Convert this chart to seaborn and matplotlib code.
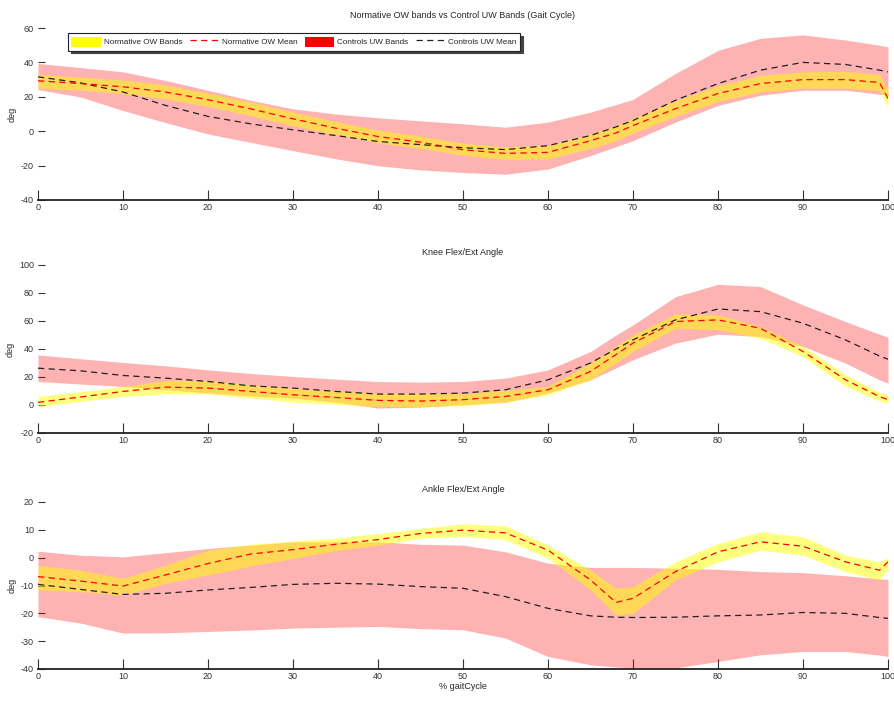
import numpy as np
import pandas as pd
import matplotlib
matplotlib.use("Agg")
import matplotlib.pyplot as plt
from matplotlib.patches import Patch
from matplotlib.lines import Line2D
import seaborn as sns

# ------------------------------------------------------------------
# data (gait cycle %)
# ------------------------------------------------------------------
CICLO = [0, 5, 10, 15, 20, 25, 30, 35, 40, 45, 50, 55, 60, 65, 68, 70,
         75, 80, 85, 90, 95, 99, 100]

# painel 1 - gait cycle
p1_norm_mean = [29.3, 27.7, 25.8, 22.8, 18.3, 13.0, 7.2, 1.8, -3.1, -6.4, -10.8, -12.9,
                -12.3, -5.5, -1.0, 3.3, 13.1, 21.9, 27.7, 30.0, 30.0, 28.3, 19.0]
p1_norm_hi = [33.0, 31.5, 29.8, 26.8, 22.2, 17.0, 11.2, 5.6, 0.6, -2.8, -7.0, -9.0,
              -8.4, -1.5, 3.0, 7.6, 17.6, 26.5, 32.5, 34.5, 34.8, 33.0, 24.0]
p1_norm_lo = [25.0, 23.9, 21.8, 18.8, 14.4, 9.0, 3.2, -2.0, -6.8, -10.0, -14.0, -16.5,
              -16.2, -10.0, -5.5, -1.2, 8.6, 17.3, 22.9, 25.0, 25.0, 23.5, 14.0]
p1_ctrl_mean = [31.6, 28.1, 22.8, 15.0, 8.6, 4.3, 0.8, -2.5, -6.0, -7.8, -9.6, -10.7,
                -8.4, -2.5, 2.5, 6.2, 18.0, 27.7, 35.5, 40.0, 38.8, 35.5, 34.5]
p1_ctrl_hi = [39.4, 37.0, 34.5, 29.5, 23.8, 18.0, 13.0, 10.0, 7.8, 6.0, 4.3, 2.3,
              5.3, 11.1, 15.5, 18.5, 33.6, 47.0, 54.0, 56.0, 53.0, 50.0, 49.0]
p1_ctrl_lo = [24.2, 19.9, 12.0, 5.0, -1.6, -6.5, -11.3, -16.0, -20.1, -22.5, -24.0, -25.0,
              -22.0, -14.2, -9.0, -5.5, 5.3, 15.0, 20.9, 23.8, 23.8, 21.5, 20.9]

# painel 2 - knee
p2_norm_mean = [1.9, 5.7, 9.7, 12.8, 12.1, 9.7, 7.3, 5.4, 3.3, 2.8, 3.8, 6.1,
                10.9, 24.0, 36.0, 44.2, 59.6, 60.8, 54.8, 38.2, 18.0, 6.0, 3.8]
p2_norm_hi = [6.1, 9.5, 13.3, 17.5, 17.5, 14.5, 12.0, 10.0, 8.5, 8.5, 8.0, 10.5,
              13.3, 30.0, 42.0, 50.0, 65.0, 64.4, 56.0, 41.8, 21.6, 9.0, 7.3]
p2_norm_lo = [-1.0, 2.5, 6.1, 8.0, 8.0, 5.0, 2.1, 0.5, -1.0, -1.0, -0.5, 2.0,
              7.3, 18.0, 30.0, 38.2, 54.8, 53.7, 47.7, 34.6, 13.3, 3.0, 1.4]
p2_ctrl_mean = [26.3, 24.4, 21.1, 19.2, 16.8, 13.7, 12.1, 9.7, 7.8, 7.8, 8.5, 10.9,
                18.0, 30.0, 40.0, 46.5, 60.8, 68.6, 66.7, 58.4, 46.5, 35.0, 32.7]
p2_ctrl_hi = [35.8, 33.0, 30.4, 28.0, 25.1, 22.5, 20.4, 18.5, 16.8, 16.3, 16.8, 19.2,
              25.1, 38.2, 50.0, 57.2, 77.4, 86.2, 84.6, 71.5, 59.6, 50.5, 48.5]
p2_ctrl_lo = [16.8, 15.0, 13.3, 11.0, 8.5, 6.5, 4.9, 2.0, -2.2, -1.5, 0.2, 1.9,
              8.5, 18.0, 26.5, 32.3, 44.2, 50.6, 48.9, 41.8, 29.9, 18.0, 15.6]

# painel 3 - ankle
p3_norm_mean = [-6.8, -8.4, -10.2, -6.2, -2.1, 1.3, 2.9, 4.8, 6.5, 8.7, 9.9, 8.9,
                2.7, -8.0, -16.1, -14.6, -5.0, 2.1, 5.7, 4.1, -1.5, -4.5, -1.5]
p3_norm_hi = [-2.7, -4.5, -7.4, -2.7, 2.7, 4.8, 6.0, 7.0, 8.7, 10.5, 12.2, 11.5,
              4.5, -4.5, -11.0, -10.4, -1.5, 5.1, 9.3, 7.5, 0.9, -1.5, 0.0]
p3_norm_lo = [-11.6, -12.2, -13.4, -9.2, -6.2, -3.0, -0.3, 2.5, 4.5, 7.0, 7.7, 6.5,
              -0.2, -11.6, -20.6, -20.0, -8.0, -1.5, 2.7, 0.9, -5.0, -8.0, -3.9]
p3_ctrl_mean = [-9.6, -11.4, -13.2, -12.8, -11.6, -10.7, -9.6, -9.2, -9.5, -10.4, -11.0, -14.0,
                -18.2, -20.9, -21.4, -21.5, -21.4, -20.9, -20.6, -19.7, -20.0, -21.5, -21.8]
p3_ctrl_hi = [2.3, 0.9, 0.3, 1.8, 3.3, 4.5, 5.7, 5.7, 5.7, 4.8, 4.5, 2.1,
              -2.0, -3.5, -3.5, -3.5, -3.8, -4.2, -5.0, -5.4, -6.5, -7.6, -7.8]
p3_ctrl_lo = [-21.2, -23.5, -27.1, -27.0, -26.5, -26.0, -25.3, -25.0, -24.7, -25.5, -25.9, -28.9,
              -35.5, -38.5, -39.3, -39.6, -39.6, -37.3, -34.9, -33.7, -33.7, -35.0, -35.5]

TITULOS = ["Normative OW bands vs Control UW Bands (Gait Cycle)",
           "Knee Flex/Ext Angle",
           "Ankle Flex/Ext Angle"]
YLIMS = [(-40, 60), (-20, 100), (-40, 20)]
YTICKS = [[-40, -20, 0, 20, 40, 60],
          [-20, 0, 20, 40, 60, 80, 100],
          [-40, -30, -20, -10, 0, 10, 20]]
XTICKS = [0, 10, 20, 30, 40, 50, 60, 70, 80, 90, 100]
LEGENDA = ["Normative OW Bands", "Normative OW Mean", "Controls UW Bands", "Controls UW Mean"]

# ------------------------------------------------------------------
# estilo
# ------------------------------------------------------------------
sns.set_theme(style="white")
plt.rcParams["font.family"] = ["Liberation Sans Narrow", "Liberation Sans", "DejaVu Sans"]
plt.rcParams.update({
    "font.size": 6.5,
    "axes.titlesize": 6.5,
    "axes.labelsize": 6.5,
    "xtick.labelsize": 6.5,
    "ytick.labelsize": 6.5,
    "axes.unicode_minus": False,
})

fig = plt.figure(figsize=(8.95, 7.02), dpi=100)
posicoes = [
    [38 / 895, 1 - 200 / 702, 850 / 895, 172 / 702],
    [38 / 895, 1 - 433 / 702, 850 / 895, 168 / 702],
    [38 / 895, 1 - 669 / 702, 850 / 895, 167 / 702],
]

paineis = [
    (p1_norm_mean, p1_norm_lo, p1_norm_hi, p1_ctrl_mean, p1_ctrl_lo, p1_ctrl_hi),
    (p2_norm_mean, p2_norm_lo, p2_norm_hi, p2_ctrl_mean, p2_ctrl_lo, p2_ctrl_hi),
    (p3_norm_mean, p3_norm_lo, p3_norm_hi, p3_ctrl_mean, p3_ctrl_lo, p3_ctrl_hi),
]

x = np.array(CICLO)
for i, (nm, nlo, nhi, cm, clo, chi) in enumerate(paineis):
    ax = fig.add_axes(posicoes[i])
    df = pd.DataFrame({"ciclo": CICLO, "norm": nm, "ctrl": cm})

    # bandas: controle (vermelho) por baixo, normativo (amarelo) por cima
    ax.fill_between(x, clo, chi, color="#FF0000", alpha=0.3, linewidth=0, zorder=1)
    ax.fill_between(x, nlo, nhi, color="#FFFF00", alpha=0.5, linewidth=0, zorder=2)

    sns.lineplot(data=df, x="ciclo", y="ctrl", ax=ax, color="#222222",
                 linewidth=0.9, zorder=3)
    sns.lineplot(data=df, x="ciclo", y="norm", ax=ax, color="#FF0000",
                 linewidth=0.9, zorder=4)
    for ln in ax.lines:
        ln.set_dashes((5, 3.5))

    ax.set_xlim(0, 100)
    ax.set_ylim(*YLIMS[i])
    ax.set_xticks(XTICKS)
    ax.set_yticks(YTICKS[i])
    ax.set_title(TITULOS[i], pad=7)
    ax.set_ylabel("deg", labelpad=3)
    ax.set_xlabel("% gaitCycle" if i == 2 else "", labelpad=1)

    for s in ["top", "right", "left"]:
        ax.spines[s].set_visible(False)
    ax.spines["bottom"].set_color("#222222")
    ax.spines["bottom"].set_linewidth(1.3)
    ax.tick_params(axis="x", bottom=True, direction="in", length=7, width=0.8,
                   colors="#333333", pad=2)
    ax.tick_params(axis="y", left=True, direction="in", length=5, width=0.8,
                   colors="#333333", pad=3)

    if i == 0:
        handles = [
            Patch(facecolor="#FFFF00", edgecolor="none"),
            Line2D([0], [0], color="#FF0000", lw=0.9, dashes=(5, 3.5)),
            Patch(facecolor="#FF0000", edgecolor="none"),
            Line2D([0], [0], color="#222222", lw=0.9, dashes=(5, 3.5)),
        ]
        leg = ax.legend(handles, LEGENDA, ncol=4, loc="upper left",
                        bbox_to_anchor=(0.035, 0.972), borderaxespad=0,
                        frameon=True, fancybox=False,
                        shadow={"color": "#444444", "alpha": 1},
                        edgecolor="#222222", framealpha=1, handlelength=3.6,
                        handleheight=1.6, columnspacing=0.9, handletextpad=0.35,
                        borderpad=0.45, fontsize=5.9)
        leg.get_frame().set_linewidth(0.8)

fig.savefig("out.png", dpi=100)
